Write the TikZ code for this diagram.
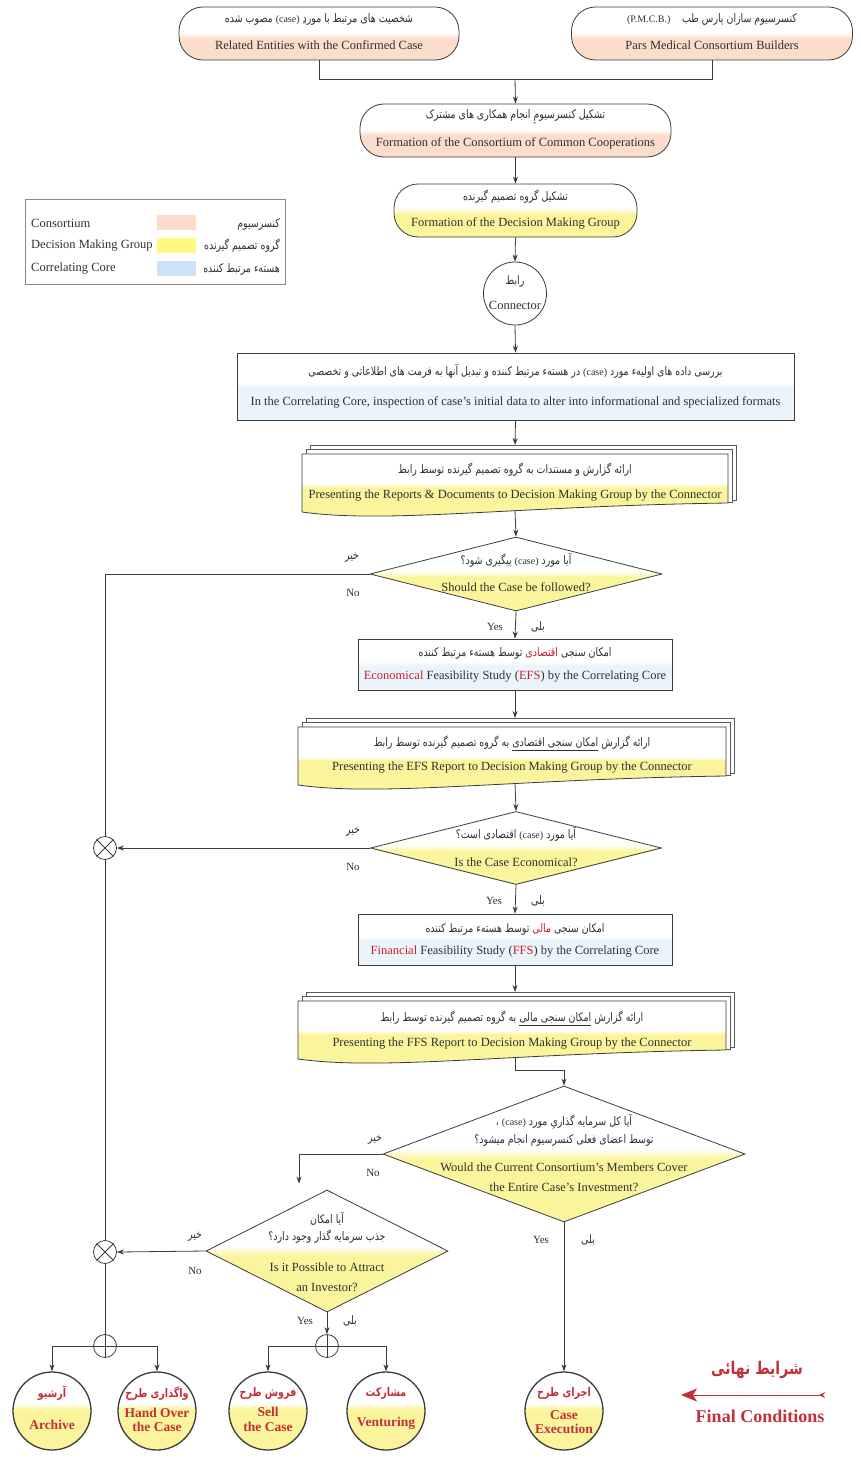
\documentclass[tikz,border=0pt]{standalone}
\usepackage{fontspec}
\setmainfont{Liberation Serif}
\newfontfamily\fafont[Script=Arabic,FakeStretch=0.8]{DejaVu Sans}
\TeXXeTstate=1
\usetikzlibrary{shapes.geometric,arrows.meta,calc}
\newcommand\fa[1]{{\fafont\beginR #1\endR}}
\newcommand\ulbox[1]{\vtop{\hbox{\beginR #1\endR}\kern1.2pt\hrule height0.5pt}}
\definecolor{cpeach}{HTML}{FADDCB}
\definecolor{cyel}{HTML}{FAF59C}
\definecolor{cblu}{HTML}{EBF4FA}
\definecolor{lpeach}{HTML}{FBDCCB}
\definecolor{lyel}{HTML}{FFF97F}
\definecolor{lblu}{HTML}{CCE3F7}
\definecolor{ln}{HTML}{3C3C3C}
\definecolor{tx}{HTML}{303030}
\definecolor{rd}{HTML}{C8202A}
\definecolor{frd}{HTML}{C4303A}
\pgfdeclareverticalshading{shpeach}{100bp}{color(0bp)=(cpeach); color(45bp)=(cpeach); color(51bp)=(white); color(100bp)=(white)}
\pgfdeclareverticalshading{shyelp}{100bp}{color(0bp)=(cyel); color(46bp)=(cyel); color(53bp)=(white); color(100bp)=(white)}
\pgfdeclareverticalshading{shblu}{100bp}{color(0bp)=(cblu); color(49bp)=(cblu); color(53bp)=(white); color(100bp)=(white)}
\pgfdeclareverticalshading{shdoc}{100bp}{color(0bp)=(cyel); color(51bp)=(cyel); color(54bp)=(white); color(100bp)=(white)}
\pgfdeclareverticalshading{shdia}{100bp}{color(0bp)=(cyel); color(48bp)=(cyel); color(52bp)=(white); color(100bp)=(white)}
\pgfdeclareverticalshading{shcir}{100bp}{color(0bp)=(cyel); color(51bp)=(cyel); color(55bp)=(white); color(100bp)=(white)}
\newcommand\multidocshape[3]{%
  \path[fill=white, draw=ln!85, line width=0.7pt] (#1+8,#2-9) rectangle (#3+8,#2+46);
  \path[fill=white, draw=ln!85, line width=0.7pt] (#1+4,#2-5) rectangle (#3+4,#2+48);
  \path[draw=ln, line width=0.8pt, shading=shdoc] (#1,#2) -- (#3,#2) -- (#3,#2+49)
     .. controls (#1+0.5*#3-0.5*#1,#2+52) and (#1+0.2*#3-0.2*#1,#2+70) .. (#1,#2+58) -- cycle;
}
\begin{document}
\begin{tikzpicture}[x=1pt,y=-1pt,
  conn/.style={draw=ln, line width=0.8pt},
  arr/.style={conn, -{Stealth[length=7pt,width=5pt]}},
  pill/.style={draw=ln, line width=0.8pt, rounded corners=24pt, minimum height=53pt, inner sep=0pt},
  boxr/.style={rectangle, draw=ln, line width=0.8pt, shading=shblu, inner sep=0pt},
  dia/.style={diamond, draw=ln, line width=0.8pt, shading=shdia, inner sep=0pt},
  en/.style={font=\fontsize{12.5}{15}\selectfont, text=tx, inner sep=0pt},
  fa/.style={font=\fontsize{11.8}{13}\selectfont, text=tx, inner sep=0pt},
  lbl/.style={font=\fontsize{11}{13}\selectfont, text=tx, inner sep=0pt},
  fin/.style={circle, draw=ln, line width=1.3pt, minimum size=78pt, inner sep=0pt, shading=shcir},
  finen/.style={font=\bfseries\fontsize{13.5}{14.5}\selectfont, text=frd, inner sep=0pt},
  finfa/.style={font=\bfseries\fontsize{12}{13}\selectfont, text=frd, inner sep=0pt},
  gate/.style={circle, draw=ln, line width=0.8pt, minimum size=23pt, inner sep=0pt, fill=white},
  sw/.style={minimum width=39pt, minimum height=15pt, inner sep=0pt}
]
\useasboundingbox (0,0) rectangle (860,1466);
\fill[white] (0,0) rectangle (860,1466);

% ---- top boxes
\node[pill, minimum width=280pt, shading=shpeach] (ent) at (319,33.5) {};
\node[fa] at (319,19) {\fa{شخصیت های مرتبط با موردِ \hbox{\rmfamily\fontsize{10}{12}\selectfont(case)} مصوب شده}};
\node[en] at (319,45) {Related Entities with the Confirmed Case};
\node[pill, minimum width=281pt, shading=shpeach] (pmcb) at (712,33.5) {};
\node[fa] at (712,19) {\fa{کنسرسیوم سازان پارس طب\quad\hbox{\rmfamily\fontsize{10}{12}\selectfont(P.M.C.B.)}}};
\node[en] at (712,45) {Pars Medical Consortium Builders};
\coordinate (topj) at (515,79);
\draw[conn] (ent.south) |- (topj);
\draw[conn] (pmcb.south) |- (topj);

\node[pill, minimum width=311pt, shading=shpeach] (form) at (515.5,130.5) {};
\node[fa] at (515.5,117) {\fa{تشکیل کنسرسیومِ انجام همکاری های مشترک}};
\node[en] at (515.5,143) {Formation of the Consortium of Common Cooperations};
\draw[arr] (topj) -- (form.north);

\node[pill, minimum width=243pt, shading=shyelp] (dmg) at (515.5,210.5) {};
\node[fa] at (515.5,197) {\fa{تشکیل گروه تصمیم گیرنده}};
\node[en] at (515.5,223) {Formation of the Decision Making Group};
\draw[arr] (form.south) -- (dmg.north);

% ---- legend
\node[draw=ln!60, line width=0.8pt, minimum width=260pt, minimum height=85pt, inner sep=0pt] (leg) at (155,241.5) {};
\node[en, anchor=west] at (31,223) {Consortium};
\node[en, anchor=west] at (31,246) {Decision Making Group};
\node[en, anchor=west] at (31,269) {Correlating Core};
\node[sw, fill=lpeach] (sw1) at (176.5,222.5) {};
\node[sw, fill=lyel] (sw2) at (176.5,245.5) {};
\node[sw, fill=lblu] (sw3) at (176.5,268.5) {};
\node[fa, anchor=east] at (280,224) {\fa{کنسرسیوم}};
\node[fa, anchor=east] at (280,246) {\fa{گروه تصمیم گیرنده}};
\node[fa, anchor=east] at (280,269) {\fa{هستهء مرتبط کننده}};

% ---- connector circle
\node[circle, draw=ln, line width=0.8pt, fill=white, minimum size=63pt, inner sep=0pt] (con) at (515,293.5) {};
\node[fa] at (515,281) {\fa{رابط}};
\node[en] at (515,305) {Connector};
\draw[arr] (dmg.south) -- (con.north);

% ---- correlating core
\node[boxr, minimum width=557pt, minimum height=67pt] (core) at (515.5,386.5) {};
\node[fa] at (515.5,371) {\fa{بررسی داده های اولیهء مورد \hbox{\rmfamily\fontsize{10}{12}\selectfont(case)} در هستهء مرتبط کننده و تبدیل آنها به فرمت های اطلاعاتی و تخصصی}};
\node[en] at (515.5,402) {In the Correlating Core, inspection of case's initial data to alter into informational and specialized formats};
\draw[arr] (con.south) -- (core.north);

% ---- doc 1
\multidocshape{302}{454}{728}
\coordinate (doc1in) at (515,445);
\coordinate (doc1out) at (515,510);
\node[fa] at (515,470) {\fa{ارائه گزارش و مستندات به گروه تصمیم گیرنده توسط رابط}};
\node[en] at (515,496) {Presenting the Reports \& Documents to Decision Making Group by the Connector};
\draw[arr] (core.south) -- (doc1in);

% ---- decision 1
\node[dia, minimum width=292pt, minimum height=74pt] (d1) at (516,574) {};
\node[fa] at (516,560) {\fa{آیا مورد \hbox{\rmfamily\fontsize{10}{12}\selectfont(case)} پیگیری شود؟}};
\node[en] at (516,587) {Should the Case be followed?};
\draw[arr] (doc1out) -- (d1.north);
\node[fa] at (352,558) {\fa{خیر}};
\node[lbl] at (353,593) {No};

% ---- EFS
\node[boxr, minimum width=314pt, minimum height=51pt] (efs) at (515,664.5) {};
\node[fa] at (515,653) {\fa{توسط هستهء مرتبط کننده} \textcolor{rd}{\fa{اقتصادی}} \fa{امکان سنجی}};
\node[en] at (515,677) {{\color{rd}Economical} Feasibility Study ({\color{rd}EFS}) by the Correlating Core};
\draw[arr] (d1.south) -- (efs.north);
\node[lbl] at (495,627) {Yes};
\node[fa] at (538,627) {\fa{بلی}};

% ---- doc 2
\multidocshape{298}{727}{726}
\coordinate (doc2in) at (515,718);
\coordinate (doc2out) at (515,783);
\node[fa] at (512,743) {\fa{ارائه گزارش \ulbox{امکان سنجی اقتصادی} به گروه تصمیم گیرنده توسط رابط}};
\node[en] at (512,768) {Presenting the EFS Report to Decision Making Group by the Connector};
\draw[arr] (efs.south) -- (doc2in);

% ---- decision 2
\node[dia, minimum width=291pt, minimum height=73pt] (d2) at (516,848) {};
\node[fa] at (516,834) {\fa{آیا مورد \hbox{\rmfamily\fontsize{10}{12}\selectfont(case)} اقتصادی است؟}};
\node[en] at (516,862) {Is the Case Economical?};
\draw[arr] (doc2out) -- (d2.north);
\node[fa] at (353,832) {\fa{خیر}};
\node[lbl] at (353,867) {No};

% ---- FFS
\node[boxr, minimum width=314pt, minimum height=51pt] (ffs) at (515,939.5) {};
\node[fa] at (515,929) {\fa{توسط هستهء مرتبط کننده} \textcolor{rd}{\fa{مالی}} \fa{امکان سنجی}};
\node[en] at (515,952) {{\color{rd}Financial} Feasibility Study ({\color{rd}FFS}) by the Correlating Core};
\draw[arr] (d2.south) -- (ffs.north);
\node[lbl] at (494,901) {Yes};
\node[fa] at (538,901) {\fa{بلی}};

% ---- doc 3
\multidocshape{298}{1001}{726}
\coordinate (doc3in) at (515,992);
\coordinate (doc3out) at (515,1057);
\node[fa] at (512,1018) {\fa{ارائه گزارش \ulbox{امکان سنجی مالی} به گروه تصمیم گیرنده توسط رابط}};
\node[en] at (512,1043) {Presenting the FFS Report to Decision Making Group by the Connector};
\draw[arr] (ffs.south) -- (doc3in);

% ---- decision 3
\node[dia, minimum width=362pt, minimum height=136pt] (d3) at (564,1154) {};
\node[fa] at (564,1122) {\fa{آیا کل سرمایه گذاریِ مورد \hbox{\rmfamily\fontsize{10}{12}\selectfont(case)} ،}};
\node[fa] at (564,1140) {\fa{توسط اعضای فعلی کنسرسیوم انجام میشود؟}};
\node[en] at (564,1167) {Would the Current Consortium’s Members Cover};
\node[en] at (564,1187) {the Entire Case’s Investment?};
\coordinate (j3) at (564,1070);
\draw[conn] (doc3out) |- (j3);
\draw[arr] (j3) -- (d3.north);
\node[fa] at (375,1140) {\fa{خیر}};
\node[lbl] at (373,1173) {No};

% ---- decision 4
\node[dia, minimum width=242pt, minimum height=122pt] (d4) at (327,1251) {};
\node[fa] at (327,1219) {\fa{آیا امکان}};
\node[fa] at (327,1237) {\fa{جذب سرمایه گذار وجود دارد؟}};
\node[en] at (327,1267) {Is it Possible to Attract};
\node[en] at (327,1287) {an Investor?};
\coordinate (d4in) at ($(d4.north)+(-28,-6)$);
\draw[arr] (d3.west) -| (d4in);
\node[fa] at (195,1237) {\fa{خیر}};
\node[lbl] at (195,1271) {No};

% ---- gates
\node[gate] (x1) at (105,848) {};
\draw[conn] (x1.north west) -- (x1.south east) (x1.north east) -- (x1.south west);
\node[gate] (x2) at (105,1252) {};
\draw[conn] (x2.north west) -- (x2.south east) (x2.north east) -- (x2.south west);
\node[gate] (p1) at (105,1346) {};
\draw[conn] (p1.north) -- (p1.south) (p1.west) -- (p1.east);
\node[gate] (p2) at (327,1346) {};
\draw[conn] (p2.north) -- (p2.south) (p2.west) -- (p2.east);

\draw[conn] (d1.west) -| (x1.north);
\draw[arr] (d2.west) -- (x1.east);
\draw[arr] (d4.west) -- (x2.east);
\draw[conn] (x1.south) -- (x2.north);
\draw[conn] (x2.south) -- (p1.north);
\draw[arr] (d4.south) -- (p2.north);
\node[lbl] at (305,1321) {Yes};
\node[fa] at (350,1321) {\fa{بلی}};

% ---- final circles
\node[fin] (arch) at (52,1411) {};
\node[finfa] at (52,1393) {\fa{آرشیو}};
\node[finen] at (52,1425) {Archive};
\node[fin] (hand) at (157,1411) {};
\node[finfa] at (157,1393) {\fa{واگذاری طرح}};
\node[finen] at (157,1413) {Hand Over};
\node[finen] at (157,1427) {the Case};
\node[fin] (sell) at (268,1411) {};
\node[finfa] at (268,1393) {\fa{فروش طرح}};
\node[finen] at (268,1412) {Sell};
\node[finen] at (268,1427) {the Case};
\node[fin] (vent) at (386,1411) {};
\node[finfa] at (386,1393) {\fa{مشارکت}};
\node[finen] at (386,1423) {Venturing};
\node[fin] (exec) at (564,1411) {};
\node[finfa] at (564,1393) {\fa{اجرای طرح}};
\node[finen] at (564,1415) {Case};
\node[finen] at (564,1429) {Execution};

\draw[arr] (p1.west) -| (arch.north);
\draw[arr] (p1.east) -| (hand.north);
\draw[arr] (p2.west) -| (sell.north);
\draw[arr] (p2.east) -| (vent.north);
\draw[arr] (d3.south) -- (exec.north);
\node[lbl] at (541,1240) {Yes};
\node[fa] at (588,1240) {\fa{بلی}};

% ---- final conditions
\node[font=\bfseries\fontsize{17.5}{20}\selectfont, text=frd, inner sep=0pt] (fct) at (757,1370) {\fa{شرایط نهائی}};
\node[font=\bfseries\fontsize{18}{20}\selectfont, text=frd, inner sep=0pt] (fce) at (760,1416) {Final Conditions};
\coordinate (fcR) at (825,1395);
\coordinate (fcL) at (681,1395);
\draw[frd, line width=1pt, {Stealth[reversed,length=6pt,width=6pt]}-{Stealth[length=16pt,width=13pt,inset=4pt]}] (fcR) -- (fcL);
\end{tikzpicture}
\end{document}
